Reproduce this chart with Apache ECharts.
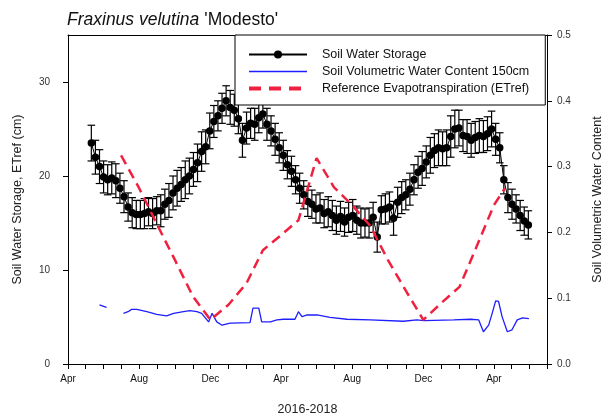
<!DOCTYPE html>
<html>
<head>
<meta charset="utf-8">
<script src="https://cdn.jsdelivr.net/npm/echarts@6/dist/echarts.min.js"></script>
<style>html,body{margin:0;padding:0;background:#fff;}#c{width:604px;height:420px;}</style>
</head>
<body>
<div id="c"></div>
<script>
// ---- data ----
const xRange = ['2016-04-01', '2018-07-01'];
const monthLabels = ['Jan','Feb','Mar','Apr','May','Jun','Jul','Aug','Sep','Oct','Nov','Dec'];
const labelMonths = [3, 7, 11];

const swsDates = [
 '2016-05-11','2016-05-18','2016-05-25','2016-06-01','2016-06-08','2016-06-15','2016-06-22','2016-06-29','2016-07-06','2016-07-13','2016-07-20','2016-07-27',
 '2016-08-03','2016-08-10','2016-08-17','2016-08-24','2016-08-31','2016-09-07','2016-09-14','2016-09-21','2016-09-28',
 '2016-10-05','2016-10-12','2016-10-19','2016-10-26','2016-11-02','2016-11-09','2016-11-16','2016-11-23','2016-11-30','2016-12-07','2016-12-14','2016-12-21','2016-12-28',
 '2017-01-04','2017-01-11','2017-01-18','2017-01-25','2017-02-01','2017-02-08','2017-02-15','2017-02-22','2017-03-01','2017-03-08','2017-03-15','2017-03-22','2017-03-29',
 '2017-04-05','2017-04-12','2017-04-19','2017-04-26','2017-05-03','2017-05-10','2017-05-17','2017-05-24','2017-05-31','2017-06-07','2017-06-14','2017-06-21','2017-06-28',
 '2017-07-05','2017-07-12','2017-07-19','2017-07-26','2017-08-02','2017-08-09','2017-08-16','2017-08-23','2017-08-30','2017-09-06','2017-09-13','2017-09-20','2017-09-27',
 '2017-10-04','2017-10-11','2017-10-18','2017-10-25','2017-11-01','2017-11-08','2017-11-15','2017-11-22','2017-11-29','2017-12-06','2017-12-13','2017-12-20','2017-12-27',
 '2018-01-03','2018-01-10','2018-01-17','2018-01-24','2018-01-31','2018-02-07','2018-02-14','2018-02-21','2018-02-28','2018-03-07','2018-03-14','2018-03-21','2018-03-28',
 '2018-04-04','2018-04-11','2018-04-18','2018-04-25','2018-05-02','2018-05-09','2018-05-16','2018-05-23','2018-05-30'
];
const swsValues = [
 23.5,22.0,21.0,19.9,19.6,19.8,19.5,18.7,17.8,16.7,16.1,15.9,
 15.9,16.0,16.2,16.0,16.3,16.3,17.0,17.4,18.2,
 18.7,19.1,19.6,20.0,20.7,21.4,22.6,23.1,24.8,25.8,26.4,27.2,28.0,
 27.3,27.0,26.1,23.8,25.1,25.6,25.5,26.2,26.6,25.5,24.8,23.9,23.0,
 22.2,21.2,20.5,19.6,18.7,18.0,17.3,17.0,16.5,16.6,16.0,16.2,15.8,
 15.3,15.7,15.1,15.6,15.8,15.3,15.0,15.0,15.0,15.6,13.5,16.4,16.5,
 16.7,15.5,17.2,17.7,18.0,18.6,19.6,20.4,20.8,21.5,22.2,22.7,23.0,
 22.9,23.0,24.2,25.0,25.1,24.3,24.2,23.8,24.1,24.3,24.2,24.5,25.0,
 23.9,23.0,19.6,17.7,17.0,16.5,15.8,15.2,14.8
];
const swsErrors = [
 1.9,1.8,1.8,1.7,1.6,1.7,1.8,1.6,1.7,1.5,1.6,1.5,
 1.5,1.6,1.5,1.6,1.5,1.7,1.6,1.8,1.8,
 1.9,1.8,2.0,1.9,1.8,2.0,2.1,1.8,1.9,1.7,1.6,1.6,1.6,
 1.8,1.7,1.6,1.8,1.7,1.6,1.7,1.6,1.5,1.7,1.6,1.7,1.6,
 1.6,1.5,1.6,1.5,1.6,1.5,1.6,1.5,1.5,1.6,1.5,1.6,1.6,
 1.5,1.6,1.5,1.6,1.7,1.5,1.6,1.5,1.6,1.6,1.6,1.5,1.6,
 1.6,1.8,1.6,1.7,1.6,1.7,1.6,1.7,1.8,1.7,1.9,1.8,1.9,
 1.8,1.9,2.2,2.0,1.9,1.7,1.8,1.8,1.7,1.8,1.7,1.8,1.9,
 1.7,1.6,1.5,1.6,1.6,1.5,1.6,1.5,1.5
];

const vwcDates = [
 '2016-05-25','2016-06-06',null,
 '2016-07-05','2016-07-13','2016-07-19','2016-07-28','2016-08-14','2016-08-31','2016-09-17','2016-09-29','2016-10-16','2016-10-27',
 '2016-11-08','2016-11-16','2016-11-28','2016-12-04','2016-12-07','2016-12-12','2016-12-21','2017-01-04','2017-02-07','2017-02-12',
 '2017-02-22','2017-02-27','2017-03-14','2017-03-25','2017-04-05','2017-04-25','2017-05-01','2017-05-07','2017-05-16','2017-06-02',
 '2017-06-24','2017-07-23','2017-09-01','2017-10-28','2017-11-20','2017-12-02','2018-01-22','2018-02-20','2018-03-06','2018-03-14',
 '2018-03-23','2018-03-29','2018-04-04','2018-04-09','2018-04-15','2018-04-24','2018-05-02','2018-05-11','2018-05-20','2018-05-31'
];
const vwcValues = [
 0.090,0.086,null,
 0.077,0.0795,0.083,0.083,0.0795,0.0755,0.073,0.077,0.0795,0.081,
 0.0795,0.077,0.064,0.077,0.080,0.064,0.059,0.062,0.063,0.085,
 0.085,0.064,0.064,0.067,0.068,0.068,0.0795,0.072,0.0745,0.0745,
 0.071,0.068,0.067,0.065,0.067,0.066,0.067,0.068,0.067,0.049,
 0.059,0.077,0.096,0.095,0.072,0.049,0.052,0.067,0.070,0.069
];

const etDates = [
 '2016-07-01','2016-08-01','2016-09-01','2016-10-01','2016-11-01','2016-12-01',
 '2017-01-01','2017-02-01','2017-03-01','2017-04-01','2017-05-01','2017-06-01',
 '2017-07-01','2017-08-01','2017-09-01','2017-10-01','2017-11-01','2017-12-01',
 '2018-01-01','2018-02-01','2018-03-01','2018-04-01','2018-04-20'
];
const etValues = [
 22.2,18.7,14.8,11.1,7.2,4.7,
 6.3,8.6,12.1,13.7,15.3,21.9,
 18.8,16.9,14.7,11.1,7.8,4.7,
 6.5,8.2,12.3,16.9,18.7
];

const seriesNames = ['Soil Water Storage', 'Soil Volumetric Water Content 150cm', 'Reference Evapotranspiration (ETref)'];
const titleMain = 'Fraxinus velutina';
const titleCultivar = "'Modesto'";
const yLeftName = 'Soil Water Storage, ETref (cm)';
const yRightName = 'Soil Volumetric Water Content';
const xName = '2016-2018';

// ---- helpers ----
function ts(s) {
  if (s == null) return null;
  const p = s.split('-').map(Number);
  return new Date(p[0], p[1] - 1, p[2]).getTime();
}
const FONT = '"Liberation Sans", Arial, sans-serif';

const swsData = swsDates.map((d, i) => [ts(d), swsValues[i]]);
const errData = swsDates.map((d, i) => [ts(d), swsValues[i], swsErrors[i]]);
const vwcData = vwcDates.map((d, i) => d == null ? [null, null] : [ts(d), vwcValues[i]]);
const etData = etDates.map((d, i) => [ts(d), etValues[i]]);

const chart = echarts.init(document.getElementById('c'), null, { renderer: 'canvas' });

chart.setOption({
  animation: false,
  backgroundColor: '#fff',
  textStyle: { fontFamily: FONT },
  title: {
    text: '{i|' + titleMain + '} {n|' + titleCultivar + '}',
    left: 62, top: 6,
    textStyle: {
      fontWeight: 'normal',
      rich: {
        i: { fontStyle: 'italic', fontWeight: 'normal', fontSize: 17.5, fontFamily: FONT, color: '#111' },
        n: { fontWeight: 'normal', fontSize: 17.5, fontFamily: FONT, color: '#111' }
      }
    }
  },
  grid: { left: 68, right: 57, top: 35, bottom: 56, containLabel: false, outerBoundsMode: 'none' },
  legend: {
    left: 235, top: 35, orient: 'vertical',
    padding: [13, 16, 10, 12], itemGap: 4,
    itemWidth: 58, itemHeight: 10,
    borderColor: '#000', borderWidth: 1, borderRadius: 0, backgroundColor: '#fff',
    textStyle: { fontSize: 12.5, color: '#111', fontFamily: FONT, padding: [0, 0, 0, 10] },
    data: [
      { name: seriesNames[0] },
      { name: seriesNames[1], itemStyle: { opacity: 0 }, lineStyle: { width: 1.5 } },
      { name: seriesNames[2], itemStyle: { opacity: 0 }, lineStyle: { width: 4, type: [12, 8] } }
    ]
  },
  xAxis: [{
    type: 'time',
    min: ts(xRange[0]), max: ts(xRange[1]),
    minInterval: 28 * 86400000, maxInterval: 31 * 86400000,
    name: xName, nameLocation: 'middle', nameGap: 39,
    nameTextStyle: { fontSize: 12.5, color: '#222', fontFamily: FONT },
    axisLine: { show: true, lineStyle: { color: '#000', width: 1 } },
    axisTick: { show: true, inside: false, length: 5, lineStyle: { color: '#000' } },
    splitLine: { show: false },
    axisLabel: {
      show: true, margin: 10, fontSize: 10, color: '#111', fontFamily: FONT,
      hideOverlap: false, showMinLabel: true, showMaxLabel: true,
      formatter: function (v) {
        const d = new Date(v);
        if (d.getDate() !== 1) return '';
        const m = d.getMonth();
        return labelMonths.indexOf(m) >= 0 ? monthLabels[m] : '';
      }
    }
  }, {
    type: 'value', position: 'top', min: 0, max: 1,
    axisLine: { show: true, onZero: false, lineStyle: { color: '#000', width: 1 } },
    axisTick: { show: false }, axisLabel: { show: false }, splitLine: { show: false }
  }],
  yAxis: [{
    type: 'value', position: 'left', offset: 6,
    min: 0, max: 35, interval: 10,
    name: yLeftName, nameLocation: 'middle', nameGap: 38, nameRotate: 90,
    nameTextStyle: { fontSize: 12.5, color: '#222', fontFamily: FONT },
    axisLine: { show: true, lineStyle: { color: '#000', width: 1 } },
    axisTick: { show: true, inside: false, length: 5, lineStyle: { color: '#000' } },
    axisLabel: { fontSize: 10, color: '#333', margin: 12, showMaxLabel: false, fontFamily: FONT },
    splitLine: { show: false }
  }, {
    type: 'value', position: 'right',
    min: 0, max: 0.5, interval: 0.1,
    name: yRightName, nameLocation: 'middle', nameGap: 44, nameRotate: 90,
    nameTextStyle: { fontSize: 12.5, color: '#222', fontFamily: FONT },
    axisLine: { show: true, lineStyle: { color: '#000', width: 1 } },
    axisTick: { show: true, inside: false, length: 5, lineStyle: { color: '#000' } },
    axisLabel: { fontSize: 10, color: '#333', margin: 10, fontFamily: FONT,
      formatter: v => v.toFixed(1) },
    splitLine: { show: false }
  }],
  series: [
    {
      name: 'errbars', type: 'custom', xAxisIndex: 0, yAxisIndex: 0, z: 3,
      data: errData, encode: { x: 0, y: 1 },
      renderItem: function (params, api) {
        const x = api.value(0), v = api.value(1), e = api.value(2);
        const hi = api.coord([x, v + e]);
        const lo = api.coord([x, v - e]);
        const w = 3.8;
        const st = { stroke: '#000', lineWidth: 1.2 };
        return {
          type: 'group', children: [
            { type: 'line', shape: { x1: hi[0], y1: hi[1], x2: lo[0], y2: lo[1] }, style: st },
            { type: 'line', shape: { x1: hi[0] - w, y1: hi[1], x2: hi[0] + w, y2: hi[1] }, style: st },
            { type: 'line', shape: { x1: lo[0] - w, y1: lo[1], x2: lo[0] + w, y2: lo[1] }, style: st }
          ]
        };
      },
      silent: true
    },
    {
      name: seriesNames[0], type: 'line', xAxisIndex: 0, yAxisIndex: 0, z: 4,
      data: swsData, symbol: 'circle', symbolSize: 7.5, showAllSymbol: true,
      itemStyle: { color: '#000' }, lineStyle: { color: '#000', width: 1 }
    },
    {
      name: seriesNames[1], type: 'line', xAxisIndex: 0, yAxisIndex: 1, z: 2,
      data: vwcData, symbol: 'none', connectNulls: false,
      itemStyle: { color: '#1e1eff' }, lineStyle: { color: '#1e1eff', width: 1.3 }
    },
    {
      name: seriesNames[2], type: 'line', xAxisIndex: 0, yAxisIndex: 0, z: 5,
      data: etData, symbol: 'none',
      itemStyle: { color: '#f0203f' }, lineStyle: { color: '#f0203f', width: 2.5, type: [10, 6] }
    }
  ]
});
</script>
</body>
</html>
